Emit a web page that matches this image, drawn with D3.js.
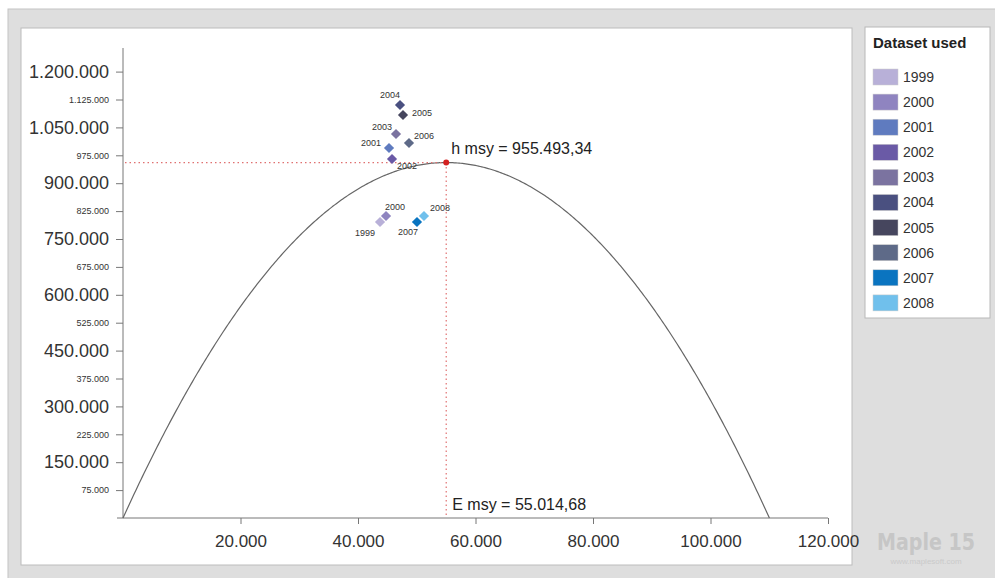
<!DOCTYPE html>
<html>
<head>
<meta charset="utf-8">
<script src="https://cdn.jsdelivr.net/npm/d3@7"></script>
<style>
  body { margin: 0; background: #fff; font-family: "Liberation Sans", Arial, sans-serif; }
</style>
</head>
<body>
<div id="chart"></div>
<script>
var years = ["1999", "2000", "2001", "2002", "2003", "2004", "2005", "2006", "2007", "2008"];
var effort = [43750, 44770, 45280, 45790, 46470, 47150, 47660, 48680, 50040, 51230];
var harvest = [795700, 811800, 994600, 965000, 1032300, 1110200, 1083300, 1008100, 795700, 811800];
var colors = ["#b8b0d8", "#8f84c0", "#5f7bbf", "#6a5aa6", "#7b73a0", "#4a5080", "#46465e", "#5e6a88", "#0a74c0", "#70c0ec"];
// label offsets per year [dx, dy] relative to the point
var labelPos = [[-15, 11], [9, -9], [-18, -5], [15, 7], [-14, -7], [-10, -10], [19, -2], [15, -7], [-9, 10], [16, -8]];

var hMsy = 955493.34;
var eMsy = 55014.68;
var yTicks = [75000, 150000, 225000, 300000, 375000, 450000, 525000, 600000, 675000, 750000, 825000, 900000, 975000, 1050000, 1125000, 1200000];
var xTicks = [20000, 40000, 60000, 80000, 100000, 120000];

function init() {
  var w = 995;
  var h = 578;
  var fmt = d3.format(",.0f");
  function dots(v) { return fmt(v).replace(/,/g, "."); }
  function euro(v) { return d3.format(",.2f")(v).replace(/,/g, "#").replace(".", ",").replace(/#/g, "."); }

  var svg = d3.select("#chart").append("svg")
    .attr("width", w)
    .attr("height", h);

  // grey panel, plot box, legend box
  svg.append("rect").attr("x", 8).attr("y", 9).attr("width", 990).attr("height", 572)
    .attr("fill", "#dedede").attr("stroke", "#c4c4c4");
  svg.append("rect").attr("x", 21).attr("y", 28).attr("width", 831).attr("height", 537)
    .attr("fill", "#fff").attr("stroke", "#bcbcbc");

  var xScale = d3.scaleLinear().domain([0, 120000]).range([123, 828]);
  var yScale = d3.scaleLinear().domain([0, 1200000]).range([518, 71.6]);

  // axes
  var xAxis = d3.axisBottom(xScale).tickValues(xTicks).tickSize(6).tickSizeOuter(0)
    .tickFormat(dots);
  var gx = svg.append("g").attr("transform", "translate(0,518)").call(xAxis);
  gx.select(".domain").attr("d", "M117,0H828");
  gx.selectAll("line").attr("stroke", "#777");
  gx.select(".domain").attr("stroke", "#777");
  gx.selectAll("text").attr("font-size", 17).attr("fill", "#333").attr("dy", "1.15em")
    .attr("font-family", "Liberation Sans, Arial, sans-serif");

  var yAxis = d3.axisLeft(yScale).tickValues(yTicks).tickSize(7).tickSizeOuter(0)
    .tickFormat(dots);
  var gy = svg.append("g").attr("transform", "translate(123,0)").call(yAxis);
  gy.select(".domain").attr("d", "M0,48V518").attr("stroke", "#777");
  gy.selectAll("line").attr("stroke", "#777");
  gy.selectAll("text")
    .attr("font-size", function(d) { return d % 150000 === 0 ? 18 : 9; })
    .attr("fill", "#333").attr("x", -14)
    .attr("font-family", "Liberation Sans, Arial, sans-serif");

  // yield curve h(E) from the two msy values
  var eMax = 2 * eMsy;
  var curve = d3.range(0, 401).map(function(i) {
    var e = eMax * i / 400;
    return [e, hMsy * (1 - Math.pow((e - eMsy) / eMsy, 2))];
  });
  svg.append("path").datum(curve)
    .attr("fill", "none").attr("stroke", "#666").attr("stroke-width", 1.2)
    .attr("d", d3.line().x(function(d) { return xScale(d[0]); }).y(function(d) { return yScale(d[1]); }));

  // msy guide lines
  svg.append("line")
    .attr("x1", xScale(0) + 2).attr("x2", xScale(eMsy))
    .attr("y1", yScale(hMsy)).attr("y2", yScale(hMsy))
    .attr("stroke", "#e07070").attr("stroke-width", 1.2).attr("stroke-dasharray", "1.5,3");
  svg.append("line")
    .attr("x1", xScale(eMsy)).attr("x2", xScale(eMsy))
    .attr("y1", yScale(hMsy)).attr("y2", yScale(0))
    .attr("stroke", "#e07070").attr("stroke-width", 1.2).attr("stroke-dasharray", "1.5,3");
  svg.append("circle").attr("cx", xScale(eMsy)).attr("cy", yScale(hMsy)).attr("r", 3)
    .attr("fill", "#d42020");

  svg.append("text").attr("x", xScale(eMsy) + 5).attr("y", yScale(hMsy) - 9)
    .attr("font-size", 16).attr("fill", "#222")
    .text("h msy = " + euro(hMsy));
  svg.append("text").attr("x", xScale(eMsy) + 6).attr("y", 510)
    .attr("font-size", 16).attr("fill", "#222")
    .text("E msy = " + euro(eMsy));

  // data points
  var sym = d3.symbol().type(d3.symbolSquare).size(52);
  var pts = svg.append("g").selectAll("g")
    .data(years)
    .enter().append("g")
    .attr("transform", function(d, i) {
      return "translate(" + xScale(effort[i]) + "," + yScale(harvest[i]) + ")";
    });
  pts.append("path").attr("d", sym).attr("transform", "rotate(45)")
    .attr("fill", function(d, i) { return colors[i]; });
  pts.append("text")
    .attr("x", function(d, i) { return labelPos[i][0]; })
    .attr("y", function(d, i) { return labelPos[i][1]; })
    .attr("text-anchor", "middle").attr("dy", "0.35em")
    .attr("font-size", 9).attr("fill", "#333")
    .text(function(d) { return d; });

  // legend
  var lg = svg.append("g");
  lg.append("rect").attr("x", 865).attr("y", 27).attr("width", 125).attr("height", 291)
    .attr("fill", "#fff").attr("stroke", "#b8b8b8");
  lg.append("text").attr("x", 873).attr("y", 48).attr("font-size", 15).attr("font-weight", "bold")
    .attr("fill", "#222").text("Dataset used");
  var rows = lg.selectAll("g.row").data(years).enter().append("g")
    .attr("transform", function(d, i) { return "translate(0," + (77 + i * 25.1) + ")"; });
  rows.append("rect").attr("x", 873).attr("y", -8).attr("width", 25).attr("height", 16)
    .attr("fill", function(d, i) { return colors[i]; })
    .attr("stroke", "#ccc").attr("stroke-width", 0.5);
  rows.append("text").attr("x", 903).attr("y", 0).attr("dy", "0.35em")
    .attr("font-size", 14).attr("fill", "#333").text(function(d) { return d; });

  // watermark
  svg.append("text").attr("x", 926).attr("y", 550).attr("text-anchor", "middle")
    .attr("font-size", 23).attr("font-weight", "bold").attr("fill", "#c6c6c6")
    .attr("font-family", "DejaVu Sans Condensed, Liberation Sans Narrow, sans-serif")
    .attr("textLength", 98).attr("lengthAdjust", "spacingAndGlyphs")
    .text("Maple 15");
  svg.append("text").attr("x", 926).attr("y", 564).attr("text-anchor", "middle")
    .attr("font-size", 8).attr("fill", "#cacaca").text("www.maplesoft.com");
}

window.onload = init;
</script>
</body>
</html>
